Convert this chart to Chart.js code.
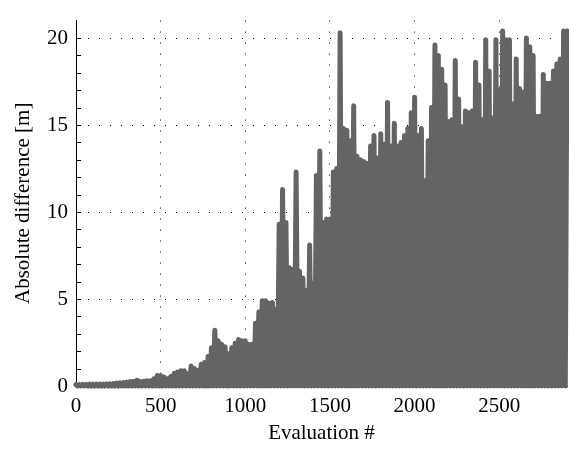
<!DOCTYPE html>
<html>
<head>
<meta charset="utf-8">
<script src="https://cdn.jsdelivr.net/npm/chart.js@4"></script>
<style>
  html, body { margin: 0; padding: 0; background: #fff; }
</style>
</head>
<body>
<canvas id="grafica" width="569" height="450"></canvas>
<script>
// peak of the absolute difference, one value every 20 evaluations (0..2900)
let step = 20;
let peaks = [
  0.08, 0.08, 0.09, 0.09, 0.1, 0.1, 0.1, 0.1, 0.11, 0.12,
  0.12, 0.14, 0.16, 0.18, 0.2, 0.22, 0.25, 0.27, 0.33, 0.26,
  0.27, 0.3, 0.3, 0.42, 0.6, 0.6, 0.52, 0.42, 0.55, 0.73,
  0.8, 0.88, 0.88, 0.7, 1.15, 1.0, 0.9, 1.25, 1.35, 1.7,
  2.2, 3.2, 2.6, 2.4, 2.25, 1.85, 2.2, 2.45, 2.67, 2.6,
  2.6, 2.4, 2.4, 3.6, 4.25, 4.9, 4.9, 4.75, 4.8, 4.4,
  9.3, 11.3, 9.4, 6.8, 6.7, 12.3, 6.6, 6.2, 5.5, 8.1,
  5.9, 12.1, 13.5, 9.4, 9.6, 9.6, 12.3, 12.5, 20.3, 14.8,
  14.7, 14.1, 16.1, 13.2, 13.0, 12.9, 12.8, 13.8, 14.4, 13.1,
  14.5, 13.9, 16.3, 13.8, 15.1, 13.8, 14.0, 14.4, 14.8, 15.7,
  16.6, 14.4, 14.8, 11.8, 14.1, 16.0, 19.6, 19.0, 18.2, 17.3,
  15.2, 15.3, 18.7, 16.5, 14.9, 15.8, 15.7, 15.8, 18.6, 17.3,
  15.3, 19.9, 18.1, 15.4, 19.9, 17.0, 20.4, 19.9, 19.9, 16.2,
  18.8, 17.1, 16.9, 20.0, 19.5, 19.0, 15.5, 15.5, 17.9, 17.4,
  17.4, 18.1, 18.5, 18.8, 20.4, 20.4
];
// the curve drops back to about zero between the peaks
let lows = [
  0, 0, 0, 0, 0, 0, 0, 0, 0, 0,
  0, 0, 0, 0, 0, 0, 0, 0, 0, 0,
  0, 0, 0, 0, 0, 0, 0, 0, 0, 0,
  0, 0, 0, 0, 0, 0, 0, 0, 0, 0,
  0, 0, 0, 0, 0, 0, 0, 0, 0, 0,
  0, 0, 0, 0, 0, 0, 0, 0, 0, 0,
  0, 0, 0, 0, 0, 0, 0, 0, 0, 0,
  0, 0, 0, 0, 0, 0, 0, 0, 0, 0,
  0, 0, 0, 0, 0, 0, 0, 0, 0, 0,
  0, 0, 0, 0, 0, 0, 0, 0, 0, 0,
  0, 0, 0, 0, 0, 0, 0, 0, 0, 0,
  0, 0, 0, 0, 0, 0, 0, 0, 0, 0,
  0, 0, 0, 0, 0, 0, 0, 0, 0, 0,
  0, 0, 0, 0, 0, 0, 0, 0, 0, 0,
  0, 0, 0, 0, 0
];
let xTicks = [0, 500, 1000, 1500, 2000, 2500];
let yTicks = [0, 5, 10, 15, 20];

const puntos = [];
peaks.forEach((p, i) => {
  puntos.push({x: i * step, y: p});
  if (i < lows.length) puntos.push({x: i * step + step / 2, y: lows[i]});
});

const fuente = {family: '"Liberation Serif", "Times New Roman", serif', size: 21};

// MATLAB style ticks pointing into the axes
const ticksDentro = {
  id: 'ticksDentro',
  afterDatasetsDraw(chart) {
    const {ctx, chartArea, scales} = chart;
    ctx.save();
    ctx.strokeStyle = '#000';
    ctx.lineWidth = 1;
    ctx.beginPath();
    for (let v = 1; v <= 20; v++) {
      const py = Math.round(scales.y.getPixelForValue(v)) + 0.5;
      ctx.moveTo(chartArea.left, py);
      ctx.lineTo(chartArea.left + 5, py);
    }
    ctx.stroke();
    ctx.restore();
  }
};

const graf = document.getElementById('grafica').getContext('2d');
const migrafica = new Chart(graf, {
  type: 'line',
  data: {
    datasets: [{
      label: 'Absolute difference',
      data: puntos,
      borderColor: '#646464',
      borderWidth: 5,
      borderJoinStyle: 'round',
      borderCapStyle: 'round',
      pointRadius: 0,
      tension: 0,
      fill: false,
      clip: 4
    }]
  },
  options: {
    responsive: false,
    animation: false,
    layout: {padding: {top: 6, right: 2, left: 0, bottom: 0}},
    plugins: {legend: {display: false}, tooltip: {enabled: false}},
    scales: {
      x: {
        type: 'linear',
        min: 0,
        max: 2900,
        afterBuildTicks: s => { s.ticks = xTicks.map(v => ({value: v})); },
        afterFit: s => { s.height = 64; },
        ticks: {color: '#000', font: fuente, padding: 8, maxRotation: 0, callback: v => String(v)},
        grid: {
          drawTicks: false,
          color: c => (c.tick && c.tick.value === 0) ? 'rgba(0,0,0,0)' : '#000',
          lineWidth: 1
        },
        border: {display: true, color: '#000', width: 1, dash: [1, 10]},
        title: {display: true, text: 'Evaluation #', color: '#000', font: fuente, padding: {top: 0, bottom: 4}}
      },
      y: {
        min: 0,
        max: 21,
        afterBuildTicks: s => { s.ticks = yTicks.map(v => ({value: v})); },
        afterFit: s => { s.width = 76; },
        ticks: {color: '#000', font: fuente, padding: 8, callback: v => String(v)},
        grid: {
          drawTicks: false,
          color: c => (c.tick && c.tick.value === 0) ? 'rgba(0,0,0,0)' : '#000',
          lineWidth: 1
        },
        border: {display: true, color: '#000', width: 1, dash: [1, 10]},
        title: {display: true, text: 'Absolute difference [m]', color: '#000', font: fuente, padding: {top: 11, bottom: 0}}
      }
    }
  },
  plugins: [ticksDentro]
});
</script>
</body>
</html>
